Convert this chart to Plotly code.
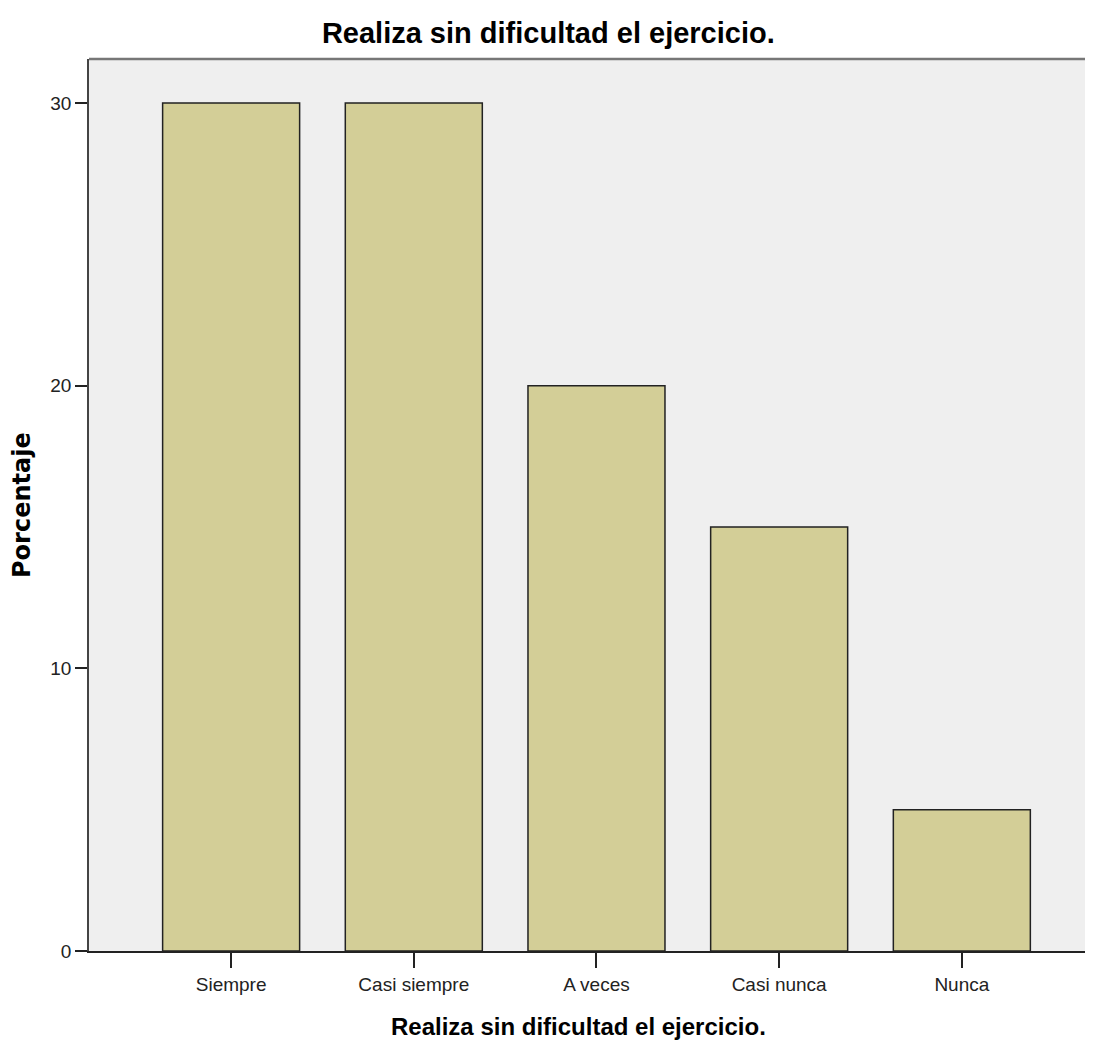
import plotly.graph_objects as go

categories = ["Siempre", "Casi siempre", "A veces", "Casi nunca", "Nunca"]
percentages = [30, 30, 20, 15, 5]
y_ticks = [0, 10, 20, 30]

title_text = "Realiza sin dificultad el ejercicio."
y_title = "Porcentaje"

SANS = "Liberation Sans, Arial, sans-serif"

fig = go.Figure()
fig.add_trace(go.Bar(
    x=list(range(len(categories))),
    y=percentages,
    width=0.75,
    marker=dict(color="#d3ce97", line=dict(color="#222222", width=1.5)),
    hoverinfo="x+y",
))

fig.update_layout(
    width=1085,
    height=1033,
    margin=dict(l=81, r=0, t=51, b=90),
    paper_bgcolor="white",
    plot_bgcolor="#efefef",
    showlegend=False,
    title=dict(
        text=title_text,
        x=0.498, xanchor="center",
        y=1 - 25 / 1033, yanchor="middle",
        font=dict(family=SANS, size=29, color="black", weight="bold"),
    ),
    font=dict(family=SANS, color="black"),
)

fig.update_xaxes(
    range=[-0.778, 4.718],
    tickmode="array",
    tickvals=list(range(len(categories))),
    ticktext=categories,
    ticks="outside",
    ticklen=15,
    tickwidth=1.5,
    tickcolor="#222222",
    tickfont=dict(size=19, color="#222222"),
    showline=True,
    linecolor="#222222",
    linewidth=1.5,
    showgrid=False,
    zeroline=False,
)

fig.update_yaxes(
    range=[0, 31.56],
    tickmode="array",
    tickvals=y_ticks,
    ticks="outside",
    ticklen=12,
    tickwidth=1.5,
    tickcolor="#222222",
    tickfont=dict(size=19, color="#222222"),
    showline=True,
    linecolor="#444444",
    linewidth=1.5,
    showgrid=False,
    zeroline=False,
)

# axis titles as annotations for exact placement
fig.add_annotation(text=title_text, xref="paper", yref="paper", x=0.488, y=0,
                   yshift=-75, xanchor="center", yanchor="middle", showarrow=False,
                   font=dict(family=SANS, size=24, color="black", weight="bold"))
fig.add_annotation(text=y_title, xref="paper", yref="paper", x=0, y=0.5,
                   xshift=-67, xanchor="center", yanchor="middle", textangle=-90,
                   showarrow=False,
                   font=dict(family="DejaVu Sans, Liberation Sans", size=24, color="black", weight="bold"))

# top border of the plot frame
fig.add_shape(type="line", xref="paper", yref="paper", x0=0, x1=1, y0=1, y1=1,
              line=dict(color="#777777", width=2.5))

fig.write_html("out.html")
